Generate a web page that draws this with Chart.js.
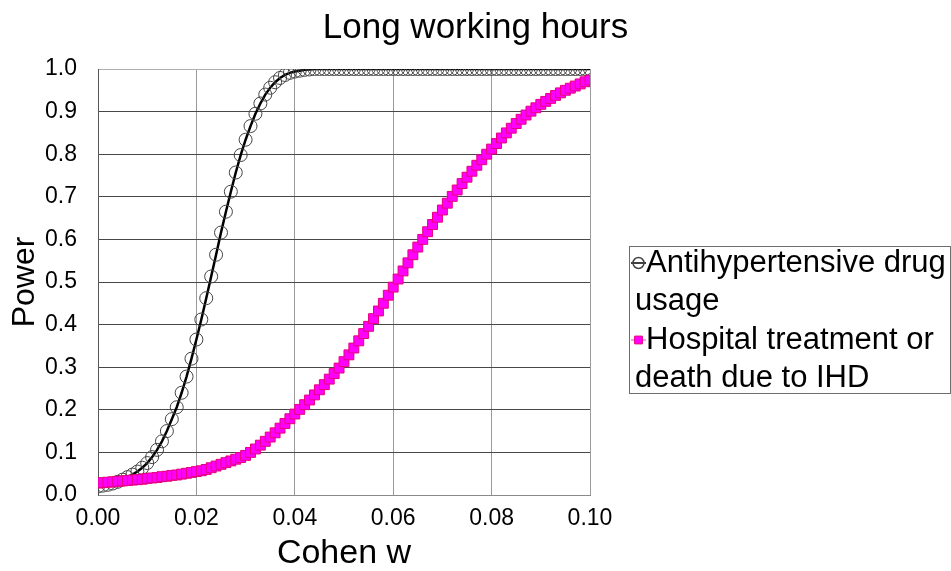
<!DOCTYPE html>
<html>
<head>
<meta charset="utf-8">
<title>Long working hours</title>
<script src="https://cdn.jsdelivr.net/npm/chart.js@4.4.1/dist/chart.umd.min.js"></script>
<style>
  html, body { margin: 0; padding: 0; background: #fff; }
  #wrap { width: 951px; height: 571px; }
</style>
</head>
<body>
<div id="wrap"><canvas id="powerChart"></canvas></div>
<script>
// Cohen w values (x)
const cohenW = [
  0.000, 0.001, 0.002, 0.003, 0.004, 0.005, 0.006, 0.007, 0.008, 0.009,
  0.010, 0.011, 0.012, 0.013, 0.014, 0.015, 0.016, 0.017, 0.018, 0.019,
  0.020, 0.021, 0.022, 0.023, 0.024, 0.025, 0.026, 0.027, 0.028, 0.029,
  0.030, 0.031, 0.032, 0.033, 0.034, 0.035, 0.036, 0.037, 0.038, 0.039,
  0.040, 0.041, 0.042, 0.043, 0.044, 0.045, 0.046, 0.047, 0.048, 0.049,
  0.050, 0.051, 0.052, 0.053, 0.054, 0.055, 0.056, 0.057, 0.058, 0.059,
  0.060, 0.061, 0.062, 0.063, 0.064, 0.065, 0.066, 0.067, 0.068, 0.069,
  0.070, 0.071, 0.072, 0.073, 0.074, 0.075, 0.076, 0.077, 0.078, 0.079,
  0.080, 0.081, 0.082, 0.083, 0.084, 0.085, 0.086, 0.087, 0.088, 0.089,
  0.090, 0.091, 0.092, 0.093, 0.094, 0.095, 0.096, 0.097, 0.098, 0.099,
  0.100
];

// Power, antihypertensive drug usage
const drugUsage = [
  0.020, 0.022, 0.024, 0.027, 0.031, 0.036, 0.042, 0.048, 0.055, 0.064,
  0.075, 0.089, 0.106, 0.126, 0.150, 0.178, 0.206, 0.240, 0.278, 0.320,
  0.365, 0.412, 0.462, 0.513, 0.564, 0.616, 0.665, 0.712, 0.757, 0.798,
  0.834, 0.866, 0.895, 0.919, 0.940, 0.956, 0.969, 0.979, 0.986, 0.991,
  0.994, 0.996, 0.998, 0.999, 1.000, 1.000, 1.000, 1.000, 1.000, 1.000,
  1.000, 1.000, 1.000, 1.000, 1.000, 1.000, 1.000, 1.000, 1.000, 1.000,
  1.000, 1.000, 1.000, 1.000, 1.000, 1.000, 1.000, 1.000, 1.000, 1.000,
  1.000, 1.000, 1.000, 1.000, 1.000, 1.000, 1.000, 1.000, 1.000, 1.000,
  1.000, 1.000, 1.000, 1.000, 1.000, 1.000, 1.000, 1.000, 1.000, 1.000,
  1.000, 1.000, 1.000, 1.000, 1.000, 1.000, 1.000, 1.000, 1.000, 1.000,
  1.000
];

// Power, hospital treatment or death due to IHD
const hospitalIHD = [
  0.028, 0.029, 0.030, 0.031, 0.032, 0.033, 0.034, 0.035, 0.036, 0.037,
  0.039, 0.040, 0.041, 0.043, 0.044, 0.046, 0.047, 0.049, 0.051, 0.053,
  0.055, 0.057, 0.060, 0.064, 0.068, 0.072, 0.076, 0.080, 0.084, 0.088,
  0.093, 0.100, 0.108, 0.117, 0.126, 0.136, 0.146, 0.157, 0.168, 0.179,
  0.190, 0.201, 0.212, 0.223, 0.235, 0.247, 0.259, 0.272, 0.285, 0.298,
  0.313, 0.329, 0.345, 0.362, 0.379, 0.396, 0.414, 0.432, 0.450, 0.469,
  0.488, 0.507, 0.526, 0.545, 0.564, 0.582, 0.600, 0.618, 0.635, 0.652,
  0.669, 0.685, 0.701, 0.716, 0.731, 0.746, 0.760, 0.774, 0.787, 0.800,
  0.812, 0.825, 0.838, 0.850, 0.861, 0.872, 0.882, 0.892, 0.901, 0.909,
  0.917, 0.924, 0.931, 0.938, 0.944, 0.950, 0.955, 0.960, 0.965, 0.970,
  0.974
];

const xTickValues = [0, 0.02, 0.04, 0.06, 0.08, 0.10];
const yTickValues = [0, 0.1, 0.2, 0.3, 0.4, 0.5, 0.6, 0.7, 0.8, 0.9, 1.0];
const legendLines = [
  ["Antihypertensive drug", "usage"],
  ["Hospital treatment or", "death due to IHD"]
];

const FONT = "'Liberation Sans', Arial, sans-serif";

// legend drawn in a box to the right of the plot, text wrapped like the original
const boxLegend = {
  id: "boxLegend",
  afterDraw(chart) {
    const ctx = chart.ctx;
    ctx.save();
    ctx.strokeStyle = "#6e6e6e";
    ctx.lineWidth = 1;
    ctx.strokeRect(629.5, 246.5, 321, 147);
    chart.data.datasets.forEach((ds, i) => {
      const y0 = 263 + i * 77;
      ctx.strokeStyle = ds.borderColor;
      ctx.lineWidth = i === 0 ? 1.5 : 1;
      ctx.beginPath();
      ctx.moveTo(631, y0);
      ctx.lineTo(646, y0);
      ctx.stroke();
      ctx.strokeStyle = ds.pointBorderColor;
      ctx.fillStyle = ds.pointBackgroundColor;
      Chart.helpers.drawPoint(ctx, {
        pointStyle: ds.pointStyle, radius: 5.5, borderWidth: 1, rotation: 0
      }, 638.5, y0);
      ctx.fillStyle = "#000";
      ctx.font = "31px " + FONT;
      ctx.textBaseline = "middle";
      ctx.textAlign = "left";
      legendLines[i].forEach((line, j) => {
        ctx.fillText(line, j === 0 ? 646 : 635, y0 + j * 38);
      });
    });
    ctx.restore();
  }
};

new Chart(document.getElementById("powerChart"), {
  type: "line",
  data: {
    datasets: [
      {
        label: legendLines[0].join(" "),
        data: cohenW.map((w, i) => ({ x: w, y: drugUsage[i] })),
        borderColor: "#000",
        borderWidth: 2.5,
        pointStyle: "circle",
        pointRadius: 6.5,
        pointBorderWidth: 1,
        pointBorderColor: "#444",
        pointBackgroundColor: "rgba(0,0,0,0)",
        tension: 0,
        order: 1
      },
      {
        label: legendLines[1].join(" "),
        data: cohenW.map((w, i) => ({ x: w, y: hospitalIHD[i] })),
        borderColor: "#ff33cc",
        borderWidth: 1,
        pointStyle: "rect",
        pointRadius: 7,
        pointBorderWidth: 1,
        pointBorderColor: "#e8007a",
        pointBackgroundColor: "#ff00ff",
        tension: 0,
        order: 0
      }
    ]
  },
  options: {
    responsive: true,
    maintainAspectRatio: false,
    animation: false,
    layout: { padding: 0 },
    plugins: {
      legend: { display: false },
      tooltip: { enabled: false },
      title: {
        display: true,
        text: "Long working hours",
        color: "#000",
        font: { family: FONT, size: 35, weight: "normal", lineHeight: 1.2 },
        padding: { top: 7, bottom: 20 }
      }
    },
    scales: {
      x: {
        type: "linear",
        min: 0,
        max: 0.1,
        afterBuildTicks: (s) => { s.ticks = xTickValues.map((v) => ({ value: v })); },
        afterFit: (s) => { s.height = 76; },
        ticks: {
          color: "#000",
          padding: 10,
          maxRotation: 0,
          autoSkip: false,
          font: { family: FONT, size: 23 },
          callback: (v) => Number(v).toFixed(2)
        },
        grid: { color: "#9a9a9a", lineWidth: 1, drawTicks: false },
        border: { color: "#8a8a8a", width: 1 },
        title: {
          display: true,
          text: "Cohen w",
          color: "#000",
          font: { family: FONT, size: 34, lineHeight: 1.0 },
          padding: { top: 0, bottom: 0 }
        }
      },
      y: {
        type: "linear",
        min: 0,
        max: 1,
        afterBuildTicks: (s) => { s.ticks = yTickValues.map((v) => ({ value: v })); },
        afterFit: (s) => { s.width = 98; },
        ticks: {
          color: "#000",
          padding: 21,
          autoSkip: false,
          font: { family: FONT, size: 23 },
          callback: (v) => Number(v).toFixed(1)
        },
        grid: {
          color: (c) => (c.tick && c.tick.value === 1 ? "#b0b0b0" : "#484848"),
          lineWidth: 1,
          drawTicks: false
        },
        border: { color: "#555", width: 1 },
        title: {
          display: true,
          text: "Power",
          color: "#000",
          font: { family: FONT, size: 32, lineHeight: 1.2 },
          padding: { top: 6, bottom: 0 }
        }
      },
      // empty right-hand axis that reserves the space for the legend box
      legendSpace: {
        type: "linear",
        position: "right",
        afterFit: (s) => { s.width = 361; },
        ticks: { display: false },
        grid: { display: false },
        border: { display: false }
      }
    }
  },
  plugins: [boxLegend]
});
</script>
</body>
</html>
